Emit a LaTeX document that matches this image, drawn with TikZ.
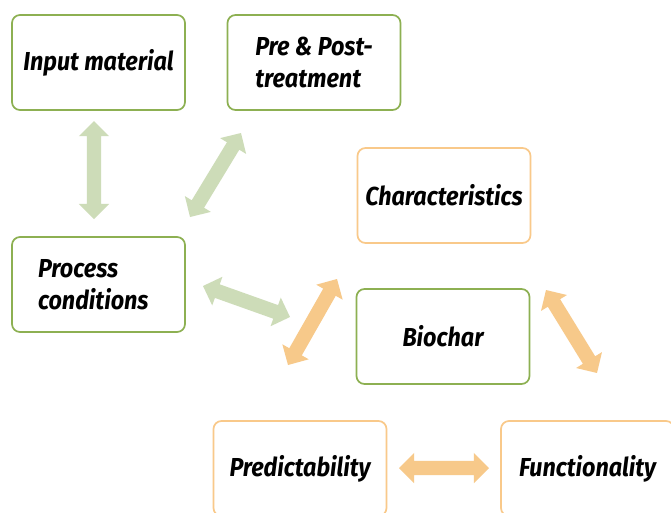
\documentclass[tikz,border=0pt]{standalone}
\usepackage{fontspec}
\setmainfont{Fira Sans}[FakeStretch=0.9]
\usetikzlibrary{shapes.arrows,calc}
\definecolor{gborder}{HTML}{8DB052}
\definecolor{oborder}{HTML}{F9C98A}
\definecolor{garrow}{HTML}{CDDCB8}
\definecolor{oarrow}{HTML}{F7C98A}
\begin{document}
\begin{tikzpicture}[x=1pt,y=-1pt,
  box/.style={draw, line width=1.7pt, rounded corners=8pt, inner sep=0pt,
    minimum width=173pt, minimum height=95pt,
    font=\fontsize{26}{32}\selectfont\bfseries\itshape, align=left},
  gbox/.style={box, draw=gborder},
  obox/.style={box, draw=oborder},
  fatarrow/.style={double arrow, draw=none, inner xsep=0pt, inner ysep=7pt, outer sep=0pt,
    double arrow head extend=8pt, double arrow tip angle=90}
]
\fill[white] (0,0) rectangle (671,512);
\clip (0,0) rectangle (671,512);

\node[gbox] (input) at (98.5,62.5) {Input material};
\node[gbox] (pre) at (314,62.5) {Pre \& Post-\\treatment};
\node[obox] (char) at (444,195.5) {Characteristics};
\node[gbox, text width=121pt] (proc) at (98.5,284.5) {Process\\conditions};
\node[gbox] (bio) at (443,336.5) {Biochar};
\node[obox] (pred) at (300,468.5) {Predictability};
\node[obox] (func) at (587.5,468.5) {Functionality};

\coordinate (a1s) at (94,121);  \coordinate (a1e) at (94,219);
\coordinate (a2s) at (190,217); \coordinate (a2e) at (241,133);
\coordinate (a3s) at (203,286); \coordinate (a3e) at (290,317);
\coordinate (a4s) at (288,365); \coordinate (a4e) at (337,279);
\coordinate (a5s) at (546,290); \coordinate (a5e) at (597,373);
\coordinate (a6s) at (399,468); \coordinate (a6e) at (489,468);

\foreach \sa/\ea/\col/\nm in {a1s/a1e/garrow/ar1, a2s/a2e/garrow/ar2, a3s/a3e/garrow/ar3,
  a4s/a4e/oarrow/ar4, a5s/a5e/oarrow/ar5, a6s/a6e/oarrow/ar6}{
  \path let \p1=(\sa), \p2=(\ea), \n1={atan2(\y2-\y1,\x2-\x1)},
    \n2={veclen(\x2-\x1,\y2-\y1)} in
    node[fatarrow, fill=\col, minimum height=\n2, rotate=\n1] (\nm) at ($(\sa)!0.5!(\ea)$) {};
}
\end{tikzpicture}
\end{document}
